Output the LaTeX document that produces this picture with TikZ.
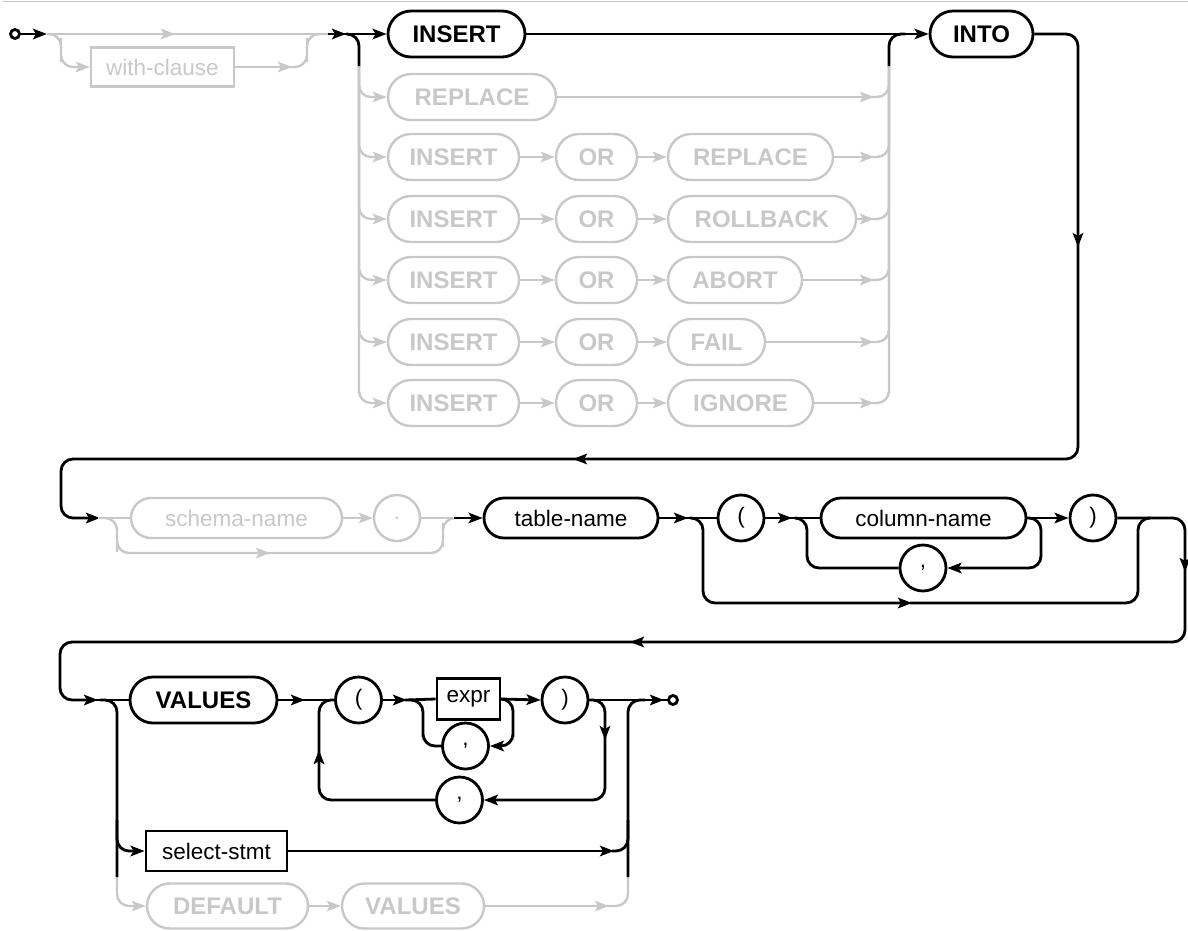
\documentclass[tikz,border=0pt]{standalone}
\usepackage{fontspec}
\setmainfont{Liberation Sans}
\usetikzlibrary{shapes.misc,arrows.meta}
\definecolor{faded}{RGB}{200,200,200}
\newcommand{\kwfont}{\fontsize{24}{28}\selectfont\bfseries}
\newcommand{\idfont}{\fontsize{22.5}{26}\selectfont}

\tikzset{
  >={Stealth[length=14pt,width=10.5pt,inset=3pt]},
  bl/.style={line width=2.8pt,black},
  gl/.style={line width=2.4pt,faded},
  kw/.style={rounded rectangle,draw,line width=2.8pt,minimum height=46pt,inner sep=0pt,font=\kwfont},
  kwg/.style={kw,draw=faded,text=faded,line width=2.4pt},
  idn/.style={rounded rectangle,draw,line width=2.8pt,minimum height=40pt,inner sep=0pt,font=\idfont},
  idg/.style={idn,draw=faded,text=faded,line width=2.4pt},
  pun/.style={circle,draw,line width=2.8pt,minimum size=46pt,inner sep=0pt,font=\idfont},
  pung/.style={pun,draw=faded,text=faded,line width=2.4pt},
  refbox/.style={rectangle,draw,line width=2.8pt,minimum height=40pt,inner sep=0pt,font=\idfont},
  refg/.style={refbox,draw=faded,text=faded,line width=2.4pt},
}

\begin{document}
\begin{tikzpicture}[x=1pt,y=-1pt]
  \useasboundingbox (0,0) rectangle (1188,930);
  \draw[faded,line width=1.2pt] (3,1.5) -- (1188,1.5);

  % row 1
  \node[refg,minimum width=143pt,minimum height=39pt] (withc) at (162.5,67) {with-clause};
  \node[kw,minimum width=137pt] (ins) at (456.5,34) {INSERT};
  \node[kw,minimum width=103pt] (into) at (981.5,34) {INTO};
  \node[kwg,minimum width=168pt] (rep) at (472,97) {REPLACE};
  \node[kwg,minimum width=131pt] (insA) at (453.5,157) {INSERT};
  \node[kwg,minimum width=81pt] (orA) at (596.5,157) {OR};
  \node[kwg,minimum width=165pt] (repA) at (750.5,157) {REPLACE};
  \node[kwg,minimum width=131pt] (insB) at (453.5,219) {INSERT};
  \node[kwg,minimum width=81pt] (orB) at (596.5,219) {OR};
  \node[kwg,minimum width=188pt] (rbB) at (762,219) {ROLLBACK};
  \node[kwg,minimum width=131pt] (insC) at (453.5,280) {INSERT};
  \node[kwg,minimum width=81pt] (orC) at (596.5,280) {OR};
  \node[kwg,minimum width=134pt] (abC) at (735,280) {ABORT};
  \node[kwg,minimum width=131pt] (insD) at (453.5,342) {INSERT};
  \node[kwg,minimum width=81pt] (orD) at (596.5,342) {OR};
  \node[kwg,minimum width=97pt] (flD) at (716.5,342) {FAIL};
  \node[kwg,minimum width=131pt] (insE) at (453.5,403) {INSERT};
  \node[kwg,minimum width=81pt] (orE) at (596.5,403) {OR};
  \node[kwg,minimum width=145pt] (igE) at (740.5,403) {IGNORE};

  \draw[gl,->] (47,34) -- (175,34);
  \draw[gl] (173,34) -- (332,34);
  \draw[gl,->,rounded corners=12pt] (47,34) -| (61,50) |- (withc.west);
  \draw[gl,->] (withc.east) -- (292,67);
  \draw[gl,rounded corners=12pt] (290,67) -| (307,50) |- (332,34);

  \draw[gl,->,rounded corners=12pt] (359,66) |- (rep.west);
  \draw[gl,->,rounded corners=12pt] (359,66) |- (insA.west);
  \draw[gl,->,rounded corners=12pt] (359,66) |- (insB.west);
  \draw[gl,->,rounded corners=12pt] (359,66) |- (insC.west);
  \draw[gl,->,rounded corners=12pt] (359,66) |- (insD.west);
  \draw[gl,->,rounded corners=12pt] (359,66) |- (insE.west);
  \draw[gl,->] (insA.east) -- (orA.west);
  \draw[gl,->] (orA.east) -- (repA.west);
  \draw[gl,->] (insB.east) -- (orB.west);
  \draw[gl,->] (orB.east) -- (rbB.west);
  \draw[gl,->] (insC.east) -- (orC.west);
  \draw[gl,->] (orC.east) -- (abC.west);
  \draw[gl,->] (insD.east) -- (orD.west);
  \draw[gl,->] (orD.east) -- (flD.west);
  \draw[gl,->] (insE.east) -- (orE.west);
  \draw[gl,->] (orE.east) -- (igE.west);
  \draw[gl,->] (rep.east) -- (874,97);
  \draw[gl,->] (repA.east) -- (874,157);
  \draw[gl,->] (rbB.east) -- (874,219);
  \draw[gl,->] (abC.east) -- (874,280);
  \draw[gl,->] (flD.east) -- (874,342);
  \draw[gl,->] (igE.east) -- (874,403);
  \draw[gl,rounded corners=12pt] (872,97) -| (889,66);
  \draw[gl,rounded corners=12pt] (872,157) -| (889,66);
  \draw[gl,rounded corners=12pt] (872,219) -| (889,66);
  \draw[gl,rounded corners=12pt] (872,280) -| (889,66);
  \draw[gl,rounded corners=12pt] (872,342) -| (889,66);
  \draw[gl,rounded corners=12pt] (872,403) -| (889,66);

  \draw[bl] (19.5,34) -- (30,34);
  \draw[bl,->] (28,34) -- (47,34);
  \draw[bl,fill=white] (15,34) circle (4.5pt);
  \draw[bl,->] (328,34) -- (346,34);
  \draw[bl,->] (344,34) -- (ins.west);
  \draw[bl,rounded corners=12pt] (346,34) -| (359,66);
  \draw[bl,->] (ins.east) -- (into.west);
  \draw[bl,rounded corners=12pt] (889,66) |- (905,34);
  \draw[bl,->,rounded corners=12pt] (into.east) -| (1078,247);
  \draw[bl,->,rounded corners=12pt] (1078,240) |- (573,459);
  \draw[bl,->,rounded corners=12pt] (580,459) -| (61,490) |- (100,518);

  % row 2
  \node[idg,minimum width=211pt] (schema) at (236.5,518) {schema-name};
  \node[pung] (dot) at (397,518) {.};
  \node[idn,minimum width=174pt] (tname) at (571,518) {table-name};
  \node[pun] (lp) at (741,518) {(};
  \node[idn,minimum width=205pt] (cname) at (923.5,518) {column-name};
  \node[pun] (cm1) at (923,568) {,};
  \node[pun] (rp) at (1093,518) {)};

  \draw[gl] (98,518) -- (schema.west);
  \draw[gl,->,rounded corners=12pt] (100,518) -| (117,540) |- (270,553);
  \draw[gl,rounded corners=12pt] (268,553) -| (443,535) |- (460,518);
  \draw[gl,->] (schema.east) -- (dot.west);
  \draw[gl] (dot.east) -- (460,518);

  \draw[bl,->] (454,518) -- (tname.west);
  \draw[bl,->] (tname.east) -- (688,518);
  \draw[bl] (686,518) -- (lp.west);
  \draw[bl,->,rounded corners=12pt] (690,518) -| (703,560) |- (912,603);
  \draw[bl,rounded corners=12pt] (910,603) -| (1138,560) |- (1150,518);
  \draw[bl,->] (lp.east) -- (792,518);
  \draw[bl] (790,518) -- (cname.west);
  \draw[bl,rounded corners=12pt] (796,518) -| (807,545) |- (cm1.west);
  \draw[bl,->,rounded corners=12pt] (cname.east) -| (1041,545) |- (cm1.east);
  \draw[bl,->] (cname.east) -- (rp.west);
  \draw[bl,->,rounded corners=12pt] (rp.east) -| (1185,572);
  \draw[bl,->,rounded corners=12pt] (1185,565) |- (630,642);
  \draw[bl,->,rounded corners=12pt] (636,642) -| (60,670) |- (98,700);

  % row 3
  \node[kw,minimum width=147pt] (vals) at (203.5,700) {VALUES};
  \node[pun] (lp2) at (358.5,700) {(};
  \node[refbox,minimum width=63pt,minimum height=41pt] (expr) at (468.5,699) {expr};
  \node[pun] (cm2) at (465.5,746) {,};
  \node[pun] (rp2) at (565,700) {)};
  \node[pun] (cm3) at (459.5,800) {,};
  \node[refbox,minimum width=141pt] (sel) at (216.5,851) {select-stmt};
  \node[kwg,minimum width=161pt,minimum height=45pt] (deflt) at (227.5,906) {DEFAULT};
  \node[kwg,minimum width=142pt,minimum height=45pt] (vals2) at (413,906) {VALUES};

  \draw[gl,->,rounded corners=12pt] (117,877) |- (deflt.west);
  \draw[gl,->] (deflt.east) -- (vals2.west);
  \draw[gl,->] (vals2.east) -- (609,906);
  \draw[gl,rounded corners=12pt] (607,906) -| (628,877);

  \draw[bl] (96,700) -- (vals.west);
  \draw[bl,rounded corners=12pt] (100,700) -| (117,877);
  \draw[bl,->,rounded corners=12pt] (117,820) |- (sel.west);
  \draw[bl,->] (sel.east) -- (614,851);
  \draw[bl,rounded corners=12pt] (612,851) -| (628,820);
  \draw[bl,rounded corners=12pt] (628,877) |- (645,700);
  \draw[bl,->] (vals.east) -- (305,700);
  \draw[bl] (303,700) -- (lp2.west);
  \draw[bl,->] (lp2.east) -- (407,700);
  \draw[bl] (405,700) -- (expr.west);
  \draw[bl,rounded corners=12pt] (410,700) -| (423,725) |- (cm2.west);
  \draw[bl,->,rounded corners=12pt] (expr.east) -| (513,725) |- (cm2.east);
  \draw[bl,->] (expr.east) -- (rp2.west);
  \draw[bl] (rp2.east) -- (668,700);
  \draw[bl,->] (640,700) -- (664,700);
  \draw[bl,fill=white] (673,700) circle (4.5pt);
  \draw[bl,->,rounded corners=12pt] (rp2.east) -| (605,740);
  \draw[bl,->,rounded corners=12pt] (605,735) |- (cm3.east);
  \draw[bl,->,rounded corners=12pt] (cm3.west) -| (319,750);
  \draw[bl,rounded corners=12pt] (319,755) |- (335,700);
\end{tikzpicture}
\end{document}
